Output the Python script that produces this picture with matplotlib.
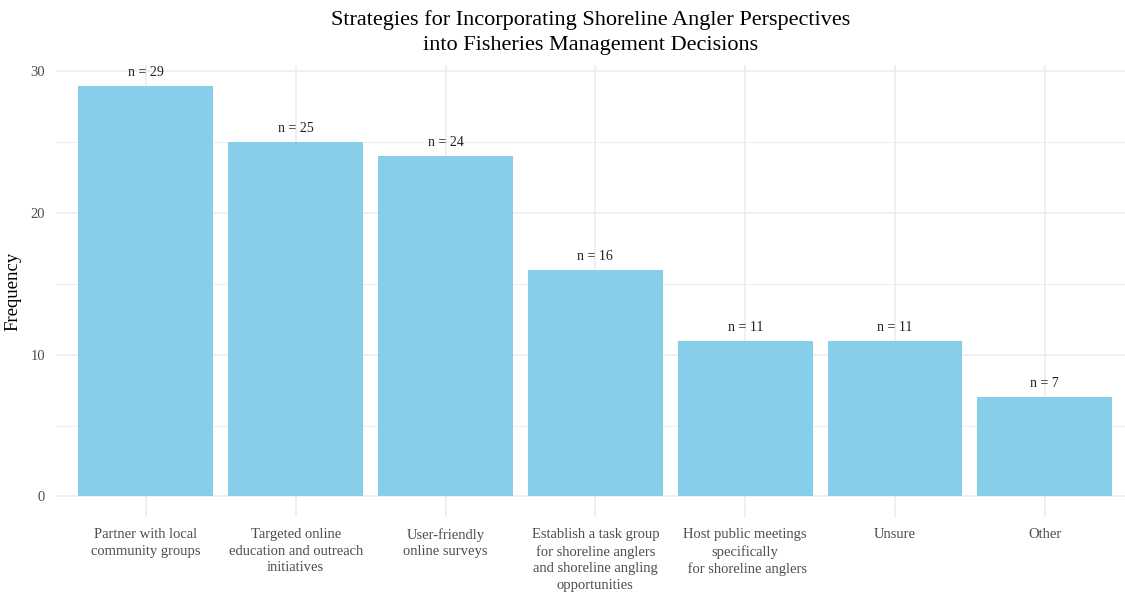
import matplotlib
matplotlib.use("Agg")
import matplotlib.pyplot as plt
import numpy as np

# data
categories = [
    "Partner with local\ncommunity groups",
    "Targeted online\neducation and outreach\ninitiatives",
    "User-friendly\nonline surveys",
    "Establish a task group\nfor shoreline anglers\nand shoreline angling\nopportunities",
    "Host public meetings\nspecifically\n for shoreline anglers",
    "Unsure",
    "Other",
]
counts = [29, 25, 24, 16, 11, 11, 7]

plt.rcParams['font.family'] = ['Liberation Serif', 'DejaVu Serif']

fig = plt.figure(figsize=(11.25, 5.93), dpi=100)
ax = fig.add_axes([56 / 1125, 1 - 517 / 593, (1125 - 56) / 1125, (517 - 65) / 593])

x = np.arange(len(categories))
ax.bar(x, counts, width=0.9, color="#87CEEB", zorder=2)

for xi, c in zip(x, counts):
    ax.annotate(f"n = {c}", (xi, c), xytext=(0, 5), textcoords="offset points",
                ha="center", va="bottom", fontsize=10, color="#222222", zorder=3)

ax.set_xlim(-0.6, 6.535)
ax.set_ylim(-1.45, 30.45)
ax.set_yticks([0, 10, 20, 30])
ax.set_yticks([5, 15, 25], minor=True)
ax.set_xticks(x)
ax.set_xticklabels(categories, fontsize=10.5, color="#4D4D4D", linespacing=1.35, va="top")
ax.tick_params(axis="x", length=0, pad=8, colors="#4D4D4D")
ax.tick_params(axis="y", length=0, pad=8, labelsize=10.5, colors="#4D4D4D")
ax.tick_params(axis="y", which="minor", length=0)

ax.grid(True, which="major", color="#EBEBEB", linewidth=1.1, zorder=0)
ax.grid(True, which="minor", axis="y", color="#EBEBEB", linewidth=0.6, zorder=0)
for s in ax.spines.values():
    s.set_visible(False)

ax.set_ylabel("Frequency", fontsize=13.5, color="black", labelpad=6)
fig.suptitle("Strategies for Incorporating Shoreline Angler Perspectives\ninto Fisheries Management Decisions",
             x=0.525, y=0.983, fontsize=16, linespacing=1.45, va="top")

fig.savefig("out.png", dpi=100, facecolor="white")
